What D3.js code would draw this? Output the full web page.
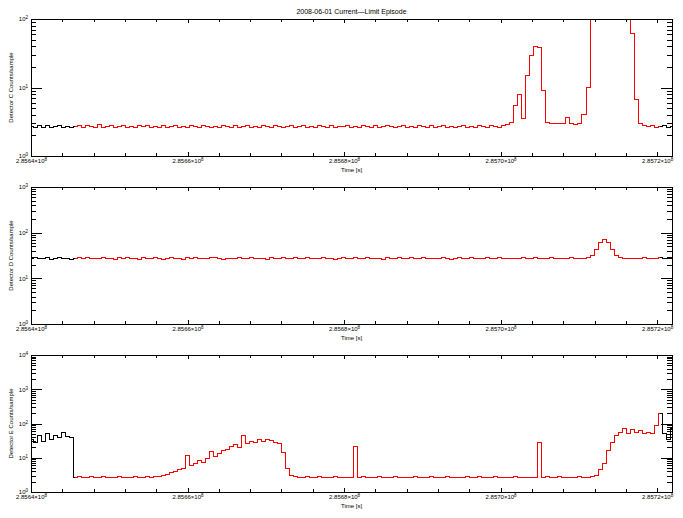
<!DOCTYPE html>
<html>
<head>
<meta charset="utf-8">
<script src="https://cdn.jsdelivr.net/npm/d3@7"></script>
<style>
  body { margin: 0; background: #fff; }
  text { font-family: "Liberation Sans", Arial, sans-serif; fill: #000; }
</style>
</head>
<body>
<div id="chart"></div>
<script>
// sample times are T0 + i * SAMPLE_DT
var T0 = 285640000;
var SAMPLE_DT = 512;
var timeDomain = [285640000, 285721900];
var majorTimeTicks = [285640000, 285660000, 285680000, 285700000, 285720000];
var redStart = 285645300;
var redEnd = 285720800;

var countsC = [
  2.7, 2.6, 2.75, 2.65, 2.8, 2.6, 2.7, 2.75, 2.6, 2.7,
  2.65, 2.7, 2.8, 2.6, 2.75, 2.7, 2.65, 2.85, 2.6, 2.7,
  2.75, 2.6, 2.7, 2.8, 2.65, 2.7, 2.6, 2.75, 2.7, 2.8,
  2.6, 2.7, 2.65, 2.75, 2.6, 2.7, 2.8, 2.65, 2.7, 2.6,
  2.75, 2.7, 2.6, 2.8, 2.7, 2.65, 2.7, 2.6, 2.75, 2.7,
  2.65, 2.8, 2.6, 2.7, 2.75, 2.6, 2.7, 2.65, 2.8, 2.7,
  2.6, 2.75, 2.7, 2.65, 2.7, 2.8, 2.6, 2.7, 2.75, 2.65,
  2.7, 2.6, 2.8, 2.7, 2.65, 2.75, 2.6, 2.7, 2.7, 2.8,
  2.65, 2.7, 2.6, 2.75, 2.7, 2.65, 2.8, 2.6, 2.7, 2.75,
  2.7, 2.6, 2.7, 2.8, 2.65, 2.7, 2.6, 2.75, 2.7, 2.65,
  2.8, 2.6, 2.7, 2.75, 2.65, 2.7, 2.6, 2.7, 2.8, 2.65,
  2.7, 2.6, 2.75, 2.7, 2.65, 2.8, 2.7, 2.6, 2.75, 2.85,
  3.1, 5.5, 7.9, 3.5, 15, 29, 40, 38, 9, 3.1,
  3.0, 2.95, 3.0, 3.0, 3.7, 2.95, 2.9, 3.0, 4.0, 10,
  150, 300, 500, 600, 600, 600, 500, 400, 300, 200,
  62, 6.7, 3.0, 2.8, 2.7, 2.75, 2.65, 2.7, 2.75, 2.65,
  2.7
];

var countsD = [
  27.4, 28.4, 26.6, 27.4, 28.6, 26.4, 27.4, 28.2, 26.8, 27.6,
  26.4, 27.4, 28.6, 27.0, 28.2, 26.6, 27.8, 27.2, 28.6, 26.8,
  27.6, 26.4, 28.2, 27.2, 28.6, 26.8, 27.4, 26.4, 28.4, 27.2,
  26.8, 28.2, 27.2, 26.4, 27.8, 28.6, 26.8, 27.6, 26.4, 28.2,
  27.2, 28.4, 26.6, 27.6, 26.8, 28.2, 28.6, 27.0, 26.4, 27.8,
  26.8, 27.6, 28.6, 26.6, 27.2, 28.2, 26.8, 27.8, 27.0, 26.4,
  28.2, 27.2, 26.8, 28.4, 26.6, 27.6, 28.6, 26.8, 27.2, 28.2,
  26.6, 27.6, 27.0, 28.4, 26.8, 27.8, 26.4, 27.2, 28.6, 26.8,
  27.6, 28.2, 26.6, 27.0, 28.4, 26.8, 27.8, 27.2, 26.4, 28.2,
  27.0, 27.6, 28.6, 26.6, 27.2, 28.2, 26.8, 27.6, 28.4, 26.6,
  27.2, 27.8, 26.8, 28.6, 27.0, 26.4, 27.6, 28.2, 26.8, 27.2,
  28.4, 26.6, 27.6, 27.0, 28.2, 26.8, 27.8, 28.6, 26.6, 27.2,
  27.8, 26.8, 27.6, 28.4, 27.0, 26.6, 28.2, 27.2, 26.8, 27.6,
  28.2, 27.0, 26.6, 27.8, 27.2, 28.4, 26.8, 27.6, 27.2, 28.6,
  31, 42, 62, 71, 62, 43, 32, 28.5, 27.6, 27.3,
  27.0, 27.8, 26.8, 28.2, 27.2, 26.6, 27.6, 28.4, 27.0, 27.8,
  27.2
];

var countsE = [
  35, 28, 45, 30, 50, 33, 46, 38, 55, 42,
  40, 2.7, 2.75, 2.7, 2.7, 2.75, 2.7, 2.7, 2.75, 2.7,
  2.7, 2.7, 2.75, 2.7, 2.7, 2.7, 2.75, 2.7, 2.7, 2.75,
  2.7, 2.8, 2.9, 3.1, 3.3, 3.6, 4.0, 4.4, 5.0, 12,
  6.0, 6.8, 8.5, 7.5, 9.5, 15, 11, 13, 16, 18,
  21, 24, 20, 45, 26, 30, 27, 33, 29, 35,
  31, 28, 26, 14, 5.0, 3.0, 2.75, 2.7, 2.7, 2.75,
  2.7, 2.7, 2.75, 2.7, 2.7, 2.7, 2.75, 2.7, 2.7, 2.7,
  2.7, 21, 2.7, 2.75, 2.7, 2.7, 2.7, 2.75, 2.7, 2.7,
  2.7, 2.75, 2.7, 2.7, 2.7, 2.7, 2.75, 2.7, 2.7, 2.7,
  2.75, 2.7, 2.7, 2.7, 2.75, 2.7, 2.7, 2.7, 2.7, 2.75,
  2.7, 2.7, 2.75, 2.7, 2.7, 2.7, 2.75, 2.7, 2.7, 2.7,
  2.7, 2.75, 2.7, 2.7, 2.7, 2.7, 2.7, 28, 2.7, 2.75,
  2.7, 2.7, 2.75, 2.7, 2.7, 2.7, 2.7, 2.75, 2.7, 2.7,
  2.8, 3.1, 4.4, 7.0, 16, 27, 46, 56, 70, 50,
  65, 55, 62, 50, 56, 52, 88, 200, 50, 35,
  70
];

var panelLabels = ["Detector C Counts/sample", "Detector D Counts/sample", "Detector E Counts/sample"];
var panelMaxExp = [2, 3, 4];

var width = 683, height = 518;
var plotLeft = 31, plotRight = 672;
var panelTops = [19, 187, 355];
var panelH = 137;
var fontSize = 6;

var svg = d3.select("#chart").append("svg")
    .attr("width", width)
    .attr("height", height);

var x = d3.scaleLinear().domain(timeDomain).range([plotLeft, plotRight]);

var minorTimeTicks = d3.range(timeDomain[0], timeDomain[1], 4000);

svg.append("text")
    .attr("x", (plotLeft + plotRight) / 2)
    .attr("y", 14)
    .attr("text-anchor", "middle")
    .style("font-size", "7px")
    .text("2008-06-01  Current\u2014Limit Episode");

function supLabel(sel, base, exp) {
  sel.text(null);
  sel.append("tspan").text(base);
  sel.append("tspan")
      .attr("dy", "-0.45em")
      .style("font-size", "4.5px")
      .text(exp);
}

function styleAxis(g) {
  g.attr("font-size", null).attr("font-family", null);
  g.select(".domain").remove();
  g.selectAll("line").attr("stroke", "#000").attr("stroke-width", 1)
      .attr("shape-rendering", "crispEdges");
  g.selectAll("text").style("font-size", fontSize + "px");
}

function drawLine(g, line, data, color) {
  g.append("path")
      .attr("d", line(data))
      .attr("shape-rendering", "crispEdges")
      .style("fill", "none")
      .style("stroke", color)
      .style("stroke-width", 1);
}

function drawPanel(k) {
  var top = panelTops[k];
  var bottom = top + panelH;
  var counts = [countsC, countsD, countsE][k];
  var y = d3.scaleLog()
      .domain([1, Math.pow(10, panelMaxExp[k])])
      .range([bottom, top]);

  var series = counts.map(function(v, i) { return {t: T0 + i * SAMPLE_DT, v: v}; });
  var redSeries = series.filter(function(d) { return d.t >= redStart && d.t <= redEnd; });
  var blackHead = series.filter(function(d) { return d.t <= redStart + SAMPLE_DT; });
  var blackTail = series.filter(function(d) { return d.t >= redEnd - SAMPLE_DT; });

  var clipId = "clip" + k;
  svg.append("clipPath").attr("id", clipId)
    .append("rect")
      .attr("x", plotLeft).attr("y", top)
      .attr("width", plotRight - plotLeft).attr("height", panelH);

  var line = d3.line()
      .curve(d3.curveStep)
      .x(function(d) { return x(d.t); })
      .y(function(d) { return y(d.v); });

  var g = svg.append("g").attr("clip-path", "url(#" + clipId + ")");
  drawLine(g, line, blackHead, "#000");
  drawLine(g, line, blackTail, "#000");
  drawLine(g, line, redSeries, "#ff0000");

  // box
  svg.append("rect")
      .attr("x", plotLeft).attr("y", top)
      .attr("width", plotRight - plotLeft).attr("height", panelH)
      .attr("shape-rendering", "crispEdges")
      .style("fill", "none")
      .style("stroke", "#000")
      .style("stroke-width", 1);

  // x axes, ticks pointing inward
  svg.append("g").attr("transform", "translate(0," + bottom + ")")
      .call(d3.axisBottom(x).tickValues(minorTimeTicks).tickSize(-3).tickFormat(""))
      .call(styleAxis);
  svg.append("g").attr("transform", "translate(0," + top + ")")
      .call(d3.axisTop(x).tickValues(minorTimeTicks).tickSize(-3).tickFormat(""))
      .call(styleAxis);
  var xMajor = svg.append("g").attr("transform", "translate(0," + bottom + ")")
      .call(d3.axisBottom(x).tickValues(majorTimeTicks).tickSize(-4).tickPadding(3))
      .call(styleAxis);
  xMajor.selectAll("text").each(function(d) {
    supLabel(d3.select(this), (d / 1e8).toFixed(4) + "\u00d710", "8");
  });
  svg.append("g").attr("transform", "translate(0," + top + ")")
      .call(d3.axisTop(x).tickValues(majorTimeTicks).tickSize(-4).tickFormat(""))
      .call(styleAxis);

  svg.append("text")
      .attr("x", (plotLeft + plotRight) / 2)
      .attr("y", bottom + 16)
      .attr("text-anchor", "middle")
      .style("font-size", fontSize + "px")
      .text("Time [s]");

  // y axes (log), major at decades
  var decades = d3.range(0, panelMaxExp[k] + 1).map(function(e) { return Math.pow(10, e); });
  var minors = [];
  decades.slice(0, -1).forEach(function(d) {
    for (var m = 2; m <= 9; m++) minors.push(d * m);
  });

  svg.append("g").attr("transform", "translate(" + plotLeft + ",0)")
      .call(d3.axisLeft(y).tickValues(minors).tickSize(-5).tickFormat(""))
      .call(styleAxis);
  svg.append("g").attr("transform", "translate(" + plotRight + ",0)")
      .call(d3.axisRight(y).tickValues(minors).tickSize(-5).tickFormat(""))
      .call(styleAxis);
  var yMajor = svg.append("g").attr("transform", "translate(" + plotLeft + ",0)")
      .call(d3.axisLeft(y).tickValues(decades).tickSize(-11).tickPadding(3))
      .call(styleAxis);
  yMajor.selectAll("text").each(function(d) {
    supLabel(d3.select(this), "10", String(Math.round(Math.log10(d))));
  });
  svg.append("g").attr("transform", "translate(" + plotRight + ",0)")
      .call(d3.axisRight(y).tickValues(decades).tickSize(-11).tickFormat(""))
      .call(styleAxis);

  svg.append("text")
      .attr("transform", "translate(13," + (top + panelH / 2) + ") rotate(-90)")
      .attr("text-anchor", "middle")
      .style("font-size", fontSize + "px")
      .text(panelLabels[k]);
}

[0, 1, 2].forEach(drawPanel);
</script>
</body>
</html>
